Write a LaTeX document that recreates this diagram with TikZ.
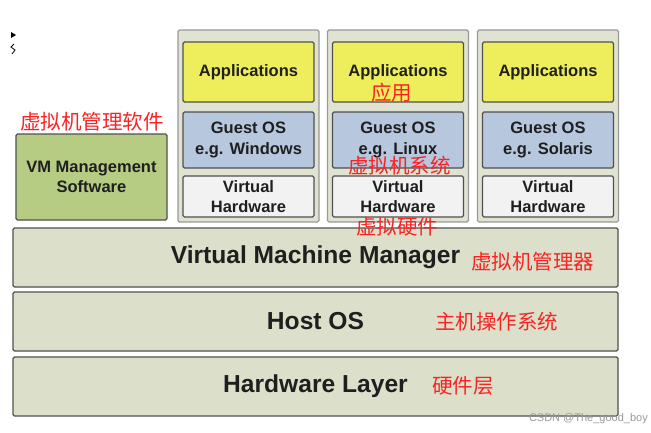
\documentclass[tikz,border=0pt]{standalone}
\usepackage{fontspec}
\setmainfont{Liberation Sans}
\newfontfamily\cjk{Noto Sans CJK SC}
\definecolor{layerfill}{RGB}{220,224,202}
\definecolor{colfill}{RGB}{224,227,210}
\definecolor{appfill}{RGB}{238,238,92}
\definecolor{osfill}{RGB}{182,199,222}
\definecolor{hwfill}{RGB}{242,242,242}
\definecolor{mgmtfill}{RGB}{182,204,130}
\definecolor{redlbl}{RGB}{250,35,35}
\definecolor{edge}{RGB}{80,80,80}
\begin{document}
\begin{tikzpicture}[x=1pt,y=-1pt,
  box/.style={draw=edge,line width=1.3pt,rounded corners=1.5pt,inner sep=0pt,align=center,text=black!88},
  layer/.style={box,fill=layerfill,minimum width=605pt,minimum height=59pt,font=\fontsize{24.6}{28}\selectfont\bfseries},
  column/.style={box,draw=black!40,fill=colfill,minimum width=141pt,minimum height=192pt},
  app/.style={box,fill=appfill,minimum width=131pt,minimum height=60pt,font=\fontsize{16.5}{19}\selectfont\bfseries},
  guest/.style={box,fill=osfill,minimum width=131pt,minimum height=56pt,font=\fontsize{16.5}{21}\selectfont\bfseries},
  vhw/.style={box,fill=hwfill,minimum width=131pt,minimum height=41pt,font=\fontsize{16.5}{20}\selectfont\bfseries},
  cn/.style={text=redlbl,font=\cjk\fontsize{20.5}{23}\selectfont,inner sep=0pt}]
\useasboundingbox[fill=white] (0,0) rectangle (651,432);

% bottom layers
\node[layer] (vmm) at (315.5,257.5) {Virtual Machine Manager};
\node[layer] (host) at (315.5,321.5) {Host OS};
\node[layer] (hw) at (315.5,386.5) {Hardware Layer};

% VM management software
\node[box,fill=mgmtfill,minimum width=151pt,minimum height=86pt,font=\fontsize{16.5}{20}\selectfont\bfseries] (mgmt) at (91.5,177) {VM Management\\Software};

% guest columns
\foreach \i/\cx/\os in {1/248.5/Windows,2/398/Linux,3/548/Solaris}{
  \node[column] (col\i) at (\cx,126) {};
  \node[app] (app\i) at (\cx,72) {Applications};
  \node[guest] (os\i) at (\cx,140) {Guest OS\\e.g. \os};
  \node[vhw] (vh\i) at (\cx,196.5) {Virtual\\Hardware};
}

% red annotations
\node[cn] (l1) at (92,122) {虚拟机管理软件};
\node[cn] (l2) at (391.5,93) {应用};
\node[cn] (l3) at (399.5,166) {虚拟机系统};
\node[cn] (l4) at (397,227) {虚拟硬件};
\node[cn] (l5) at (532.5,262) {虚拟机管理器};
\node[cn] (l6) at (496.5,322) {主机操作系统};
\node[cn] (l7) at (463,386) {硬件层};

% small artifact top-left
\fill[black] (11,32) -- (16,35) -- (11,38) -- cycle;
\draw[black,line width=0.8pt] (14,44) -- (11,47) -- (15,50) -- (12,54);

% watermark
\node[anchor=east,text=black!40,font=\fontsize{11}{12}\selectfont,inner sep=0pt] (wm) at (648,419) {CSDN @The\_good\_boy};
\end{tikzpicture}
\end{document}
